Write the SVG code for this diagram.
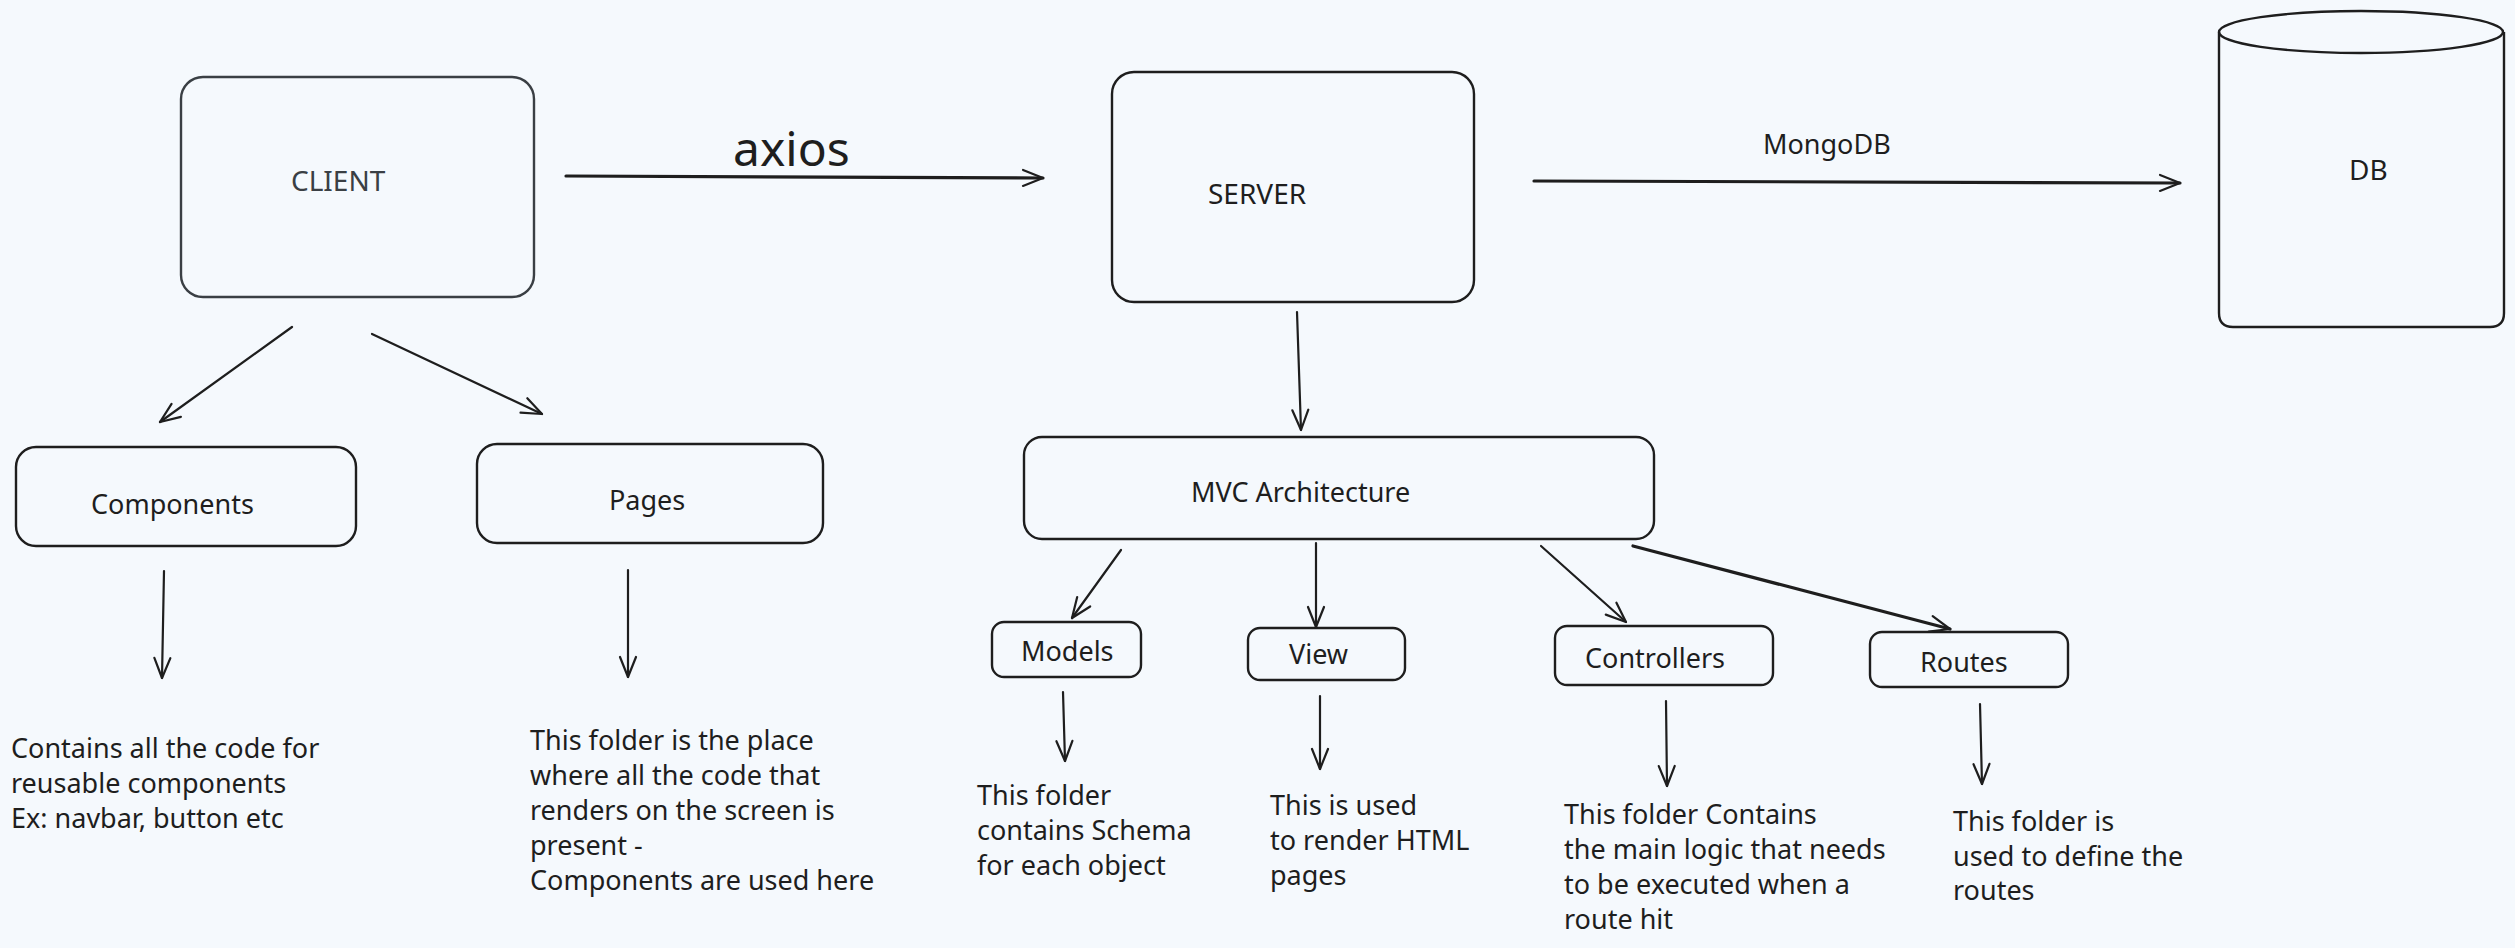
<svg xmlns="http://www.w3.org/2000/svg" width="2515" height="948" viewBox="0 0 2515 948">
<style>
  .bg { fill: #f5f9fd; }
  .box { fill: none; stroke: #1e1e1e; stroke-width: 2.4; }
  .gbox { fill: none; stroke: #3a3f44; stroke-width: 2.4; }
  .t { font-family: "Noto Sans", "Open Sans", sans-serif; font-size: 27px; fill: #1e1e1e; }
  .big { font-size: 48px; }
  .lbl { font-size: 28px; }
  .g { fill: #3a3f44; }
  .conn { fill: none; stroke: #1e1e1e; stroke-width: 2.2; stroke-linecap: round; }
  .thick { stroke-width: 3.2; }
</style>
<defs>
  <marker id="ah" markerUnits="userSpaceOnUse" markerWidth="40" markerHeight="40" viewBox="-30 -15 40 30" refX="0" refY="0" orient="auto">
    <path d="M-20,-8 L0,0 L-20,8" fill="none" stroke="#1e1e1e" stroke-width="2.2" stroke-linecap="round" stroke-linejoin="round"/>
  </marker>
</defs>
<rect class="bg" x="0" y="0" width="2515" height="948"/>

<g id="client">
  <rect class="gbox" x="181" y="77" width="353" height="220" rx="22"/>
  <text class="t lbl g" x="291" y="191">CLIENT</text>
</g>
<g id="server">
  <rect class="box" x="1112" y="72" width="362" height="230" rx="22"/>
  <text class="t lbl" x="1208" y="204">SERVER</text>
</g>
<g id="db">
  <path class="box" d="M2219,32 L2219,313 Q2219,327 2233,327 L2490,327 Q2504,327 2504,313 L2504,32"/>
  <ellipse class="box" cx="2361" cy="32" rx="142" ry="21"/>
  <text class="t lbl" x="2349" y="180">DB</text>
</g>
<g id="components">
  <rect class="box" x="16" y="447" width="340" height="99" rx="20"/>
  <text class="t" x="91" y="514">Components</text>
</g>
<g id="pages">
  <rect class="box" x="477" y="444" width="346" height="99" rx="20"/>
  <text class="t" x="609" y="510">Pages</text>
</g>
<g id="mvc">
  <rect class="box" x="1024" y="437" width="630" height="102" rx="18"/>
  <text class="t" x="1191" y="502">MVC Architecture</text>
</g>
<g id="models">
  <rect class="box" x="992" y="622" width="149" height="55" rx="12"/>
  <text class="t" x="1021" y="661">Models</text>
</g>
<g id="view">
  <rect class="box" x="1248" y="628" width="157" height="52" rx="12"/>
  <text class="t" x="1289" y="664">View</text>
</g>
<g id="controllers">
  <rect class="box" x="1555" y="626" width="218" height="59" rx="12"/>
  <text class="t" x="1585" y="668">Controllers</text>
</g>
<g id="routes">
  <rect class="box" x="1870" y="632" width="198" height="55" rx="12"/>
  <text class="t" x="1920" y="672">Routes</text>
</g>

<g id="notes">
  <text class="t" x="11" y="758">Contains all the code for</text>
  <text class="t" x="11" y="793">reusable components</text>
  <text class="t" x="11" y="828">Ex: navbar, button etc</text>

  <text class="t" x="530" y="750">This folder is the place</text>
  <text class="t" x="530" y="785">where all the code that</text>
  <text class="t" x="530" y="820">renders on the screen is</text>
  <text class="t" x="530" y="855">present -</text>
  <text class="t" x="530" y="890">Components are used here</text>

  <text class="t" x="977" y="805">This folder</text>
  <text class="t" x="977" y="840">contains Schema</text>
  <text class="t" x="977" y="875">for each object</text>

  <text class="t" x="1270" y="815">This is used</text>
  <text class="t" x="1270" y="850">to render HTML</text>
  <text class="t" x="1270" y="885">pages</text>

  <text class="t" x="1564" y="824">This folder Contains</text>
  <text class="t" x="1564" y="859">the main logic that needs</text>
  <text class="t" x="1564" y="894">to be executed when a</text>
  <text class="t" x="1564" y="929">route hit</text>

  <text class="t" x="1953" y="831">This folder is</text>
  <text class="t" x="1953" y="866">used to define the</text>
  <text class="t" x="1953" y="900">routes</text>
</g>

<g id="connectors">
  <line class="conn thick" x1="566" y1="176" x2="1043" y2="178" marker-end="url(#ah)"/>
  <text class="t big" x="733" y="166">axios</text>
  <line class="conn thick" x1="1534" y1="181" x2="2180" y2="183" marker-end="url(#ah)"/>
  <text class="t" x="1763" y="154">MongoDB</text>
  <line class="conn" x1="1297" y1="312" x2="1301" y2="430" marker-end="url(#ah)"/>
  <line class="conn" x1="292" y1="327" x2="160" y2="422" marker-end="url(#ah)"/>
  <line class="conn" x1="372" y1="334" x2="542" y2="414" marker-end="url(#ah)"/>
  <line class="conn" x1="164" y1="571" x2="162" y2="678" marker-end="url(#ah)"/>
  <line class="conn" x1="628" y1="570" x2="628" y2="677" marker-end="url(#ah)"/>
  <line class="conn" x1="1121" y1="550" x2="1072" y2="618" marker-end="url(#ah)"/>
  <line class="conn" x1="1316" y1="543" x2="1316" y2="627" marker-end="url(#ah)"/>
  <line class="conn" x1="1541" y1="546" x2="1626" y2="622" marker-end="url(#ah)"/>
  <line class="conn thick" x1="1633" y1="546" x2="1950" y2="629" marker-end="url(#ah)"/>
  <line class="conn" x1="1063" y1="692" x2="1065" y2="761" marker-end="url(#ah)"/>
  <line class="conn" x1="1320" y1="696" x2="1320" y2="769" marker-end="url(#ah)"/>
  <line class="conn" x1="1666" y1="701" x2="1667" y2="786" marker-end="url(#ah)"/>
  <line class="conn" x1="1980" y1="704" x2="1982" y2="784" marker-end="url(#ah)"/>
</g>
</svg>
